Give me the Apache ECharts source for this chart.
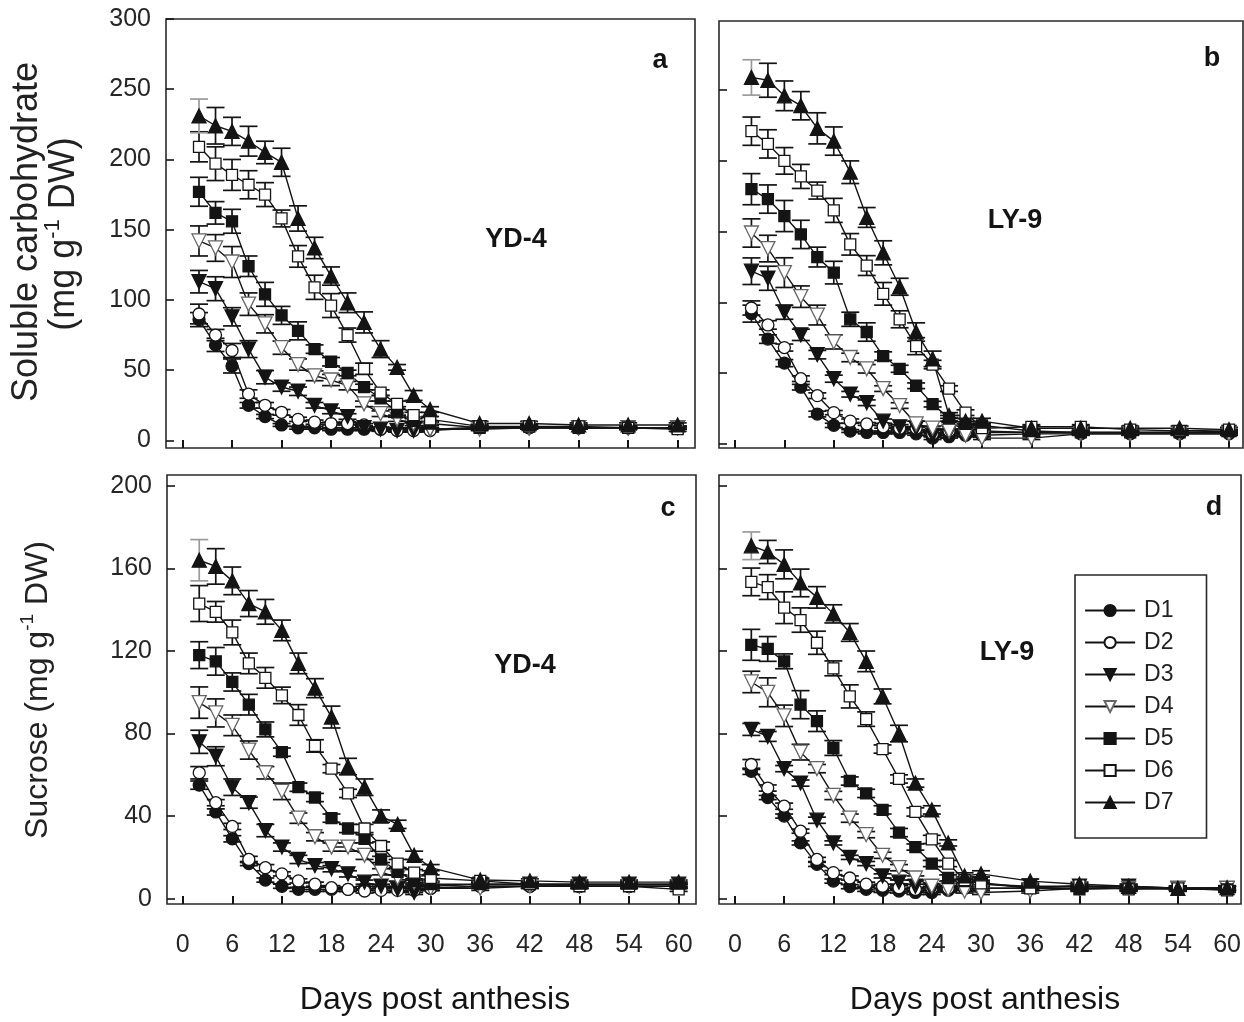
<!DOCTYPE html>
<html>
<head>
<meta charset="utf-8">
<script src="https://cdn.jsdelivr.net/npm/echarts@6/dist/echarts.min.js"></script>
<style>
  html, body { margin: 0; padding: 0; background: #fff; }
  #chart { width: 1244px; height: 1022px; }
</style>
</head>
<body>
<div id="chart"></div>
<script>
// Sampling days after anthesis
const days = [2, 4, 6, 8, 10, 12, 14, 16, 18, 20, 22, 24, 26, 28, 30, 36, 42, 48, 54, 60];
const seriesNames = ['D1', 'D2', 'D3', 'D4', 'D5', 'D6', 'D7'];
const dayTicks = [0, 6, 12, 18, 24, 30, 36, 42, 48, 54, 60];
const solubleTicks = [0, 50, 100, 150, 200, 250, 300];
const sucroseTicks = [0, 40, 80, 120, 160, 200];

// (a) soluble carbohydrate, YD-4 — one row per treatment D1..D7
const solubleYD4 = [
  [86, 68, 53, 25, 17, 11, 9, 9, 8, 8, 8, 8, 8, 8, 8, 9, 9, 9, 9, 9],
  [90, 75, 64, 33, 25, 20, 15, 13, 12, 12, 11, 8, 7, 7, 7, 9, 9, 9, 9, 9],
  [113, 108, 88, 65, 45, 38, 35, 25, 21, 17, 9, 8, 7, 7, 8, 9, 9, 9, 9, 9],
  [142, 137, 127, 97, 83, 66, 54, 46, 43, 39, 26, 19, 15, 12, 8, 8, 9, 9, 9, 9],
  [177, 162, 156, 124, 104, 89, 78, 65, 56, 48, 38, 30, 20, 14, 12, 9, 10, 9, 9, 9],
  [209, 197, 189, 182, 175, 158, 131, 109, 96, 75, 51, 34, 26, 18, 15, 10, 10, 10, 9, 8],
  [231, 224, 220, 213, 205, 198, 158, 137, 117, 98, 84, 65, 52, 32, 22, 12, 12, 11, 11, 11]
];
const solubleYD4Err = [
  [5, 4.7, 5, 2, 1.5, 1, 1, 1, 1, 1, 1, 1, 1, 1, 1, 1, 1, 1, 1, 1],
  [7, 4, 5, 3, 2, 2, 1.5, 1.5, 1, 1, 1, 1, 1, 1, 1, 1, 1, 1, 1, 1],
  [8, 8.5, 6.5, 6, 4.7, 3, 3, 2, 2, 2, 1.5, 1.5, 1, 1, 1, 1, 1, 1, 1, 1],
  [10.7, 9.5, 11, 8, 6.5, 4.7, 4, 3.5, 4, 3, 2, 2, 1.5, 1.5, 1, 1, 1, 1, 1, 1],
  [10.3, 8, 8.5, 7.3, 8.5, 6.4, 6.4, 3, 3, 2, 2, 2, 2, 1.5, 1.5, 1, 1, 1, 1, 1],
  [10.7, 12, 11, 10, 8.5, 6, 7.7, 8.6, 8.5, 5, 4, 2, 2, 2, 2, 1.5, 1.5, 1.5, 1.5, 1.5],
  [12, 13, 10, 10.6, 8, 10, 9, 7.6, 6.5, 7, 7.5, 6, 2, 3.5, 2, 1.5, 1.5, 1.5, 1.5, 1.5]
];

// (b) soluble carbohydrate, LY-9
const solubleLY9 = [
  [92, 74, 57, 40, 21, 13, 9, 8, 8, 8, 7, 4, 5, 6, 6, 7, 7, 7, 7, 7],
  [96, 84, 68, 46, 34, 22, 16, 14, 12, 11, 11, 7, 9, 8, 8, 8, 8, 8, 8, 8],
  [122, 117, 93, 77, 63, 46, 35, 29, 16, 12, 11, 6, 8, 9, 9, 8, 8, 8, 8, 8],
  [149, 138, 121, 104, 91, 72, 61, 53, 39, 27, 14, 11, 9, 6, 4, 4, 7, 7, 7, 7],
  [180, 173, 161, 148, 132, 121, 88, 79, 62, 53, 41, 28, 18, 14, 13, 9, 8, 8, 8, 9],
  [221, 212, 200, 189, 179, 165, 141, 126, 106, 88, 69, 56, 39, 22, 11, 12, 12, 10, 9, 10],
  [259, 257, 246, 239, 223, 214, 192, 160, 135, 111, 79, 60, 20, 16, 16, 11, 11, 11, 11, 10]
];
const solubleLY9Err = [
  [6, 3, 2.5, 2, 2, 1.5, 1, 1, 1, 1, 1, 1, 1, 1, 1, 1, 1, 1, 1, 1],
  [5, 3, 2.5, 2, 2, 1.5, 1.5, 1, 1, 1, 1, 1, 1, 1, 1, 1, 1, 1, 1, 1],
  [9.4, 8.5, 5, 4, 3, 2.5, 2, 2, 1.5, 1.5, 1, 1, 1, 1, 1, 1, 1, 1, 1, 1],
  [10, 9.4, 10.5, 7.6, 7, 5, 3, 3, 2, 2, 2, 1.5, 1.5, 1, 1, 1, 1, 1, 1, 1],
  [11, 10, 11, 10, 7, 8, 5, 6.5, 3, 2.5, 2, 2, 2, 1.5, 1.5, 1, 1, 1, 1, 1],
  [10, 10, 9.4, 8.5, 6, 8.5, 7.6, 7, 8, 6, 6, 3, 2, 2, 2, 1.5, 1.5, 1.5, 1.5, 1.5],
  [12.5, 12, 10.5, 10, 11, 10, 8, 7, 8.5, 6, 6.5, 5.5, 2, 2, 2, 1.5, 1.5, 1.5, 1.5, 1.5]
];

// (c) sucrose, YD-4
const sucroseYD4 = [
  [55, 42, 29, 17, 9, 6, 4.5, 4.5, 4.5, 4.5, 5, 5, 5, 5, 5, 6, 6, 6, 6, 6],
  [61, 46.5, 35, 19, 15, 12, 8.6, 7, 5.3, 4.5, 3.7, 4, 4, 4, 5, 6, 6, 6, 6, 6],
  [76, 69, 54, 46.5, 33, 25, 19, 16, 14.5, 12, 8, 6, 4.5, 3, 6, 7, 7, 7, 7, 7],
  [95, 90, 84, 72, 61, 52, 39, 30, 25, 25, 21, 13, 10, 8, 5, 5, 6, 6, 6, 6],
  [118, 115, 105, 94, 82, 71, 54, 49, 39, 34, 29, 19, 13, 8.6, 7, 7, 7, 7, 7, 7],
  [143, 139, 129, 114, 107, 98.5, 89, 74, 63, 51, 34, 25.5, 17, 12.6, 10, 8.6, 7, 6, 6, 4.5],
  [164, 161, 154, 143, 139, 130, 114, 102, 88, 64, 54, 40, 36, 21, 15, 9, 8.6, 8, 8, 8]
];
const sucroseYD4Err = [
  [2, 1.5, 1.5, 1, 1, 1, 1, 1, 1, 1, 1, 1, 1, 1, 1, 1, 1, 1, 1, 1],
  [3, 1.5, 1.5, 1.5, 1.5, 1, 1, 1, 1, 1, 1, 1, 1, 1, 1, 1, 1, 1, 1, 1],
  [5.6, 4.6, 4, 2.7, 3, 2, 2, 1.5, 1.5, 1.5, 1, 1, 1, 1, 1, 1, 1, 1, 1, 1],
  [7.6, 6.8, 5, 4.4, 3, 4, 2.5, 2, 2, 2, 2, 1.5, 1.5, 1, 1, 1, 1, 1, 1, 1],
  [6.5, 6.7, 4.4, 5, 3.6, 2, 2, 2, 2, 2, 2, 1.5, 1.5, 1, 1, 1, 1, 1, 1, 1],
  [8.7, 5, 6, 5, 5, 4, 5, 3, 2, 2, 2, 2, 2, 1.5, 1.5, 1, 1, 1, 1, 1],
  [10, 8.6, 6.7, 6.3, 6, 5, 5, 4.6, 5.3, 4, 4, 3, 2, 2, 1.5, 1, 1, 1, 1, 1]
];

// (d) sucrose, LY-9
const sucroseLY9 = [
  [61.7, 49, 40, 27, 16.6, 8.5, 5.8, 4.5, 4, 3.7, 3, 3, 4, 5, 5, 5, 5, 5, 5, 5],
  [65, 53.6, 44.8, 32.7, 19, 12.6, 10, 7, 6, 5.3, 4.5, 5, 5, 5, 5, 5, 5, 5, 5, 5],
  [82, 78.6, 63, 56, 38, 27, 20, 17, 11, 8, 6, 4, 5.3, 6, 7, 6, 6, 6, 5, 5],
  [105, 100, 88.6, 71, 63, 50, 39, 31, 21, 15, 10, 6, 4.5, 3.7, 3, 3.7, 5, 5, 5, 5],
  [123, 121, 115, 94, 86, 73, 57, 51, 43, 32, 25, 17, 10, 8.5, 7.7, 5.3, 4.5, 5, 4.5, 4.5],
  [153.5, 151, 141, 135, 124, 111.6, 98, 87, 72.5, 58, 42, 28.7, 17, 9, 7.4, 5, 6.4, 4.5, 5, 4],
  [171, 168, 162, 153, 146, 138, 129, 115, 98, 80, 56, 43, 27, 11, 12, 8.5, 7, 6, 5, 5.3]
];
const sucroseLY9Err = [
  [1.5, 1, 1, 1, 1, 1, 1, 1, 1, 1, 1, 1, 1, 1, 1, 1, 1, 1, 1, 1],
  [2.4, 1.5, 1.5, 1, 1, 1, 1, 1, 1, 1, 1, 1, 1, 1, 1, 1, 1, 1, 1, 1],
  [2.9, 2.4, 1.5, 1.5, 1.5, 1, 1, 1, 1, 1, 1, 1, 1, 1, 1, 1, 1, 1, 1, 1],
  [5.2, 7, 5.2, 3.8, 2, 2, 2, 1.5, 1.5, 1.5, 1, 1, 1, 1, 1, 1, 1, 1, 1, 1],
  [7.5, 6, 3.6, 6.8, 5, 3.6, 2, 2, 2, 2, 1.5, 1.5, 1.5, 1, 1, 1, 1, 1, 1, 1],
  [6.7, 6, 7.7, 5.9, 5.6, 3.6, 5.6, 3.5, 2, 2, 2, 2, 1.5, 1.5, 1.5, 1, 1, 1, 1, 1],
  [6.7, 5.6, 7, 6.7, 5.2, 4.4, 4.3, 5, 3.6, 4, 2, 2, 1.5, 1.5, 1.5, 1, 1, 1, 1, 1]
];

const FONT = 'Liberation Sans, Arial, Helvetica, sans-serif';
const INK = '#141414';

// Marker style per treatment
const markerStyles = [
  { symbol: 'circle',   size: 12, rotate: 0,   fill: INK,    stroke: INK },
  { symbol: 'circle',   size: 12, rotate: 0,   fill: '#fff', stroke: INK },
  { symbol: 'triangle', size: 14, rotate: 180, fill: INK,    stroke: INK },
  { symbol: 'triangle', size: 14, rotate: 180, fill: '#fff', stroke: '#666' },
  { symbol: 'rect',     size: 11, rotate: 0,   fill: INK,    stroke: INK },
  { symbol: 'rect',     size: 11, rotate: 0,   fill: '#fff', stroke: INK },
  { symbol: 'triangle', size: 14, rotate: 0,   fill: INK,    stroke: INK }
];

// Panel layout: pixel rectangles and axis windows
const panels = [
  { values: solubleYD4, errors: solubleYD4Err, left: 166, top: 19,  width: 529, height: 429,
    xMin: -2.0, xMax: 62.1, yMin: -5.4, yMax: 300, yTicks: solubleTicks, showX: false, showY: true },
  { values: solubleLY9, errors: solubleLY9Err, left: 719, top: 21,  width: 524, height: 427,
    xMin: -1.94, xMax: 61.7, yMin: -3.0, yMax: 298.9, yTicks: solubleTicks, showX: false, showY: false },
  { values: sucroseYD4, errors: sucroseYD4Err, left: 167, top: 475, width: 529, height: 429,
    xMin: -1.9, xMax: 62.1, yMin: -2.6, yMax: 205.3, yTicks: sucroseTicks, showX: true, showY: true },
  { values: sucroseLY9, errors: sucroseLY9Err, left: 719, top: 475, width: 524, height: 429,
    xMin: -1.94, xMax: 61.7, yMin: -2.6, yMax: 205.3, yTicks: sucroseTicks, showX: true, showY: false }
];

function errorBarItem(params, api) {
  const x = api.value(0);
  const y = api.value(1);
  const e = api.value(2);
  const grey = api.value(3) === 1;
  const hi = api.coord([x, y + e]);
  const lo = api.coord([x, y - e]);
  const w = 9;
  const style = { stroke: grey ? '#9a9a9a' : INK, lineWidth: 1.7 };
  return {
    type: 'group',
    children: [
      { type: 'line', shape: { x1: hi[0], y1: hi[1], x2: lo[0], y2: lo[1] }, style: style },
      { type: 'line', shape: { x1: hi[0] - w, y1: hi[1], x2: hi[0] + w, y2: hi[1] }, style: style },
      { type: 'line', shape: { x1: lo[0] - w, y1: lo[1], x2: lo[0] + w, y2: lo[1] }, style: style }
    ]
  };
}

const grids = [], xAxes = [], yAxes = [], series = [];

panels.forEach((p, pi) => {
  grids.push({
    left: p.left, top: p.top, width: p.width, height: p.height,
    show: true, borderColor: '#2a2a2a', borderWidth: 1.6, backgroundColor: 'transparent'
  });
  xAxes.push({
    type: 'value', gridIndex: pi, min: p.xMin, max: p.xMax, position: 'bottom',
    axisLine: { show: false, onZero: false },
    splitLine: { show: false },
    axisTick: { show: true, inside: true, length: 8, customValues: dayTicks,
                lineStyle: { color: INK, width: 2 } },
    axisLabel: { show: p.showX, customValues: dayTicks, margin: 29,
                 fontSize: 25, fontFamily: FONT, color: '#262626' }
  });
  yAxes.push({
    type: 'value', gridIndex: pi, min: p.yMin, max: p.yMax, position: 'left',
    axisLine: { show: false, onZero: false },
    splitLine: { show: false },
    axisTick: { show: true, inside: true, length: 8, customValues: p.yTicks,
                lineStyle: { color: INK, width: 1.6 } },
    axisLabel: { show: p.showY, customValues: p.yTicks, margin: 15,
                 fontSize: 25, fontFamily: FONT, color: '#262626' }
  });

  seriesNames.forEach((name, si) => {
    const m = markerStyles[si];
    const vals = p.values[si];
    const errs = p.errors[si];
    series.push({
      type: 'custom', name: name + ' SE', xAxisIndex: pi, yAxisIndex: pi,
      renderItem: errorBarItem, z: 1, silent: true,
      encode: { x: 0, y: 1 },
      data: days.map((d, i) => [d, vals[i], errs[i], (si === 6 && i === 0) ? 1 : 0])
    });
    series.push({
      type: 'line', name: name, xAxisIndex: pi, yAxisIndex: pi, z: 3,
      data: days.map((d, i) => [d, vals[i]]),
      symbol: m.symbol, symbolSize: m.size, symbolRotate: m.rotate,
      showAllSymbol: true,
      lineStyle: { color: INK, width: 1.4 },
      itemStyle: { color: m.fill, borderColor: m.stroke, borderWidth: 1.3 }
    });
  });
});

function label(text, x, y, size, bold) {
  return { type: 'text', x: x, y: y, z: 10,
    style: { text: text, fontSize: size, fontWeight: bold ? 'bold' : 'normal', fontFamily: FONT,
             fill: INK, align: 'center', verticalAlign: 'middle' } };
}

function rotatedTitle(text, x, y, size) {
  return { type: 'text', x: x, y: y, rotation: Math.PI / 2, z: 10,
    style: {
      text: text, align: 'center', verticalAlign: 'middle',
      rich: {
        t: { fontSize: size, fontFamily: FONT, fill: '#222', lineHeight: size + 8, verticalAlign: 'middle' },
        s: { fontSize: Math.round(size * 0.6), fontFamily: FONT, fill: '#222', lineHeight: size + 8, verticalAlign: 'top' }
      }
    } };
}

const chart = echarts.init(document.getElementById('chart'), null, { renderer: 'canvas' });
chart.setOption({
  animation: false,
  backgroundColor: '#fff',
  grid: grids,
  xAxis: xAxes,
  yAxis: yAxes,
  legend: {
    data: seriesNames,
    orient: 'vertical',
    left: 1075, top: 575,
    padding: [24, 33, 24, 9],
    itemWidth: 50, itemHeight: 14, itemGap: 9,
    lineStyle: { width: 2.2 },
    backgroundColor: '#fff',
    borderColor: '#2a2a2a', borderWidth: 1.6,
    textStyle: { fontSize: 23, fontFamily: FONT, color: '#222', padding: [0, 0, 0, 4] },
    selectedMode: false
  },
  graphic: {
    elements: [
      label('a', 660, 61, 27, true),
      label('b', 1212, 59, 27, true),
      label('c', 668, 509, 27, true),
      label('d', 1214, 508, 27, true),
      label('YD-4', 516, 240, 27, true),
      label('LY-9', 1015, 221, 27, true),
      label('YD-4', 525, 666, 27, true),
      label('LY-9', 1007, 653, 27, true),
      label('Days post anthesis', 435, 1000, 32, false),
      label('Days post anthesis', 985, 1000, 32, false),
      rotatedTitle('{t|Soluble carbohydrate}', 27, 232, 36),
      rotatedTitle('{t|(mg g}{s|-1}{t| DW)}', 64, 234, 36),
      rotatedTitle('{t|Sucrose (mg g}{s|-1}{t| DW)}', 38, 690, 32)
    ]
  },
  series: series
});
</script>
</body>
</html>
